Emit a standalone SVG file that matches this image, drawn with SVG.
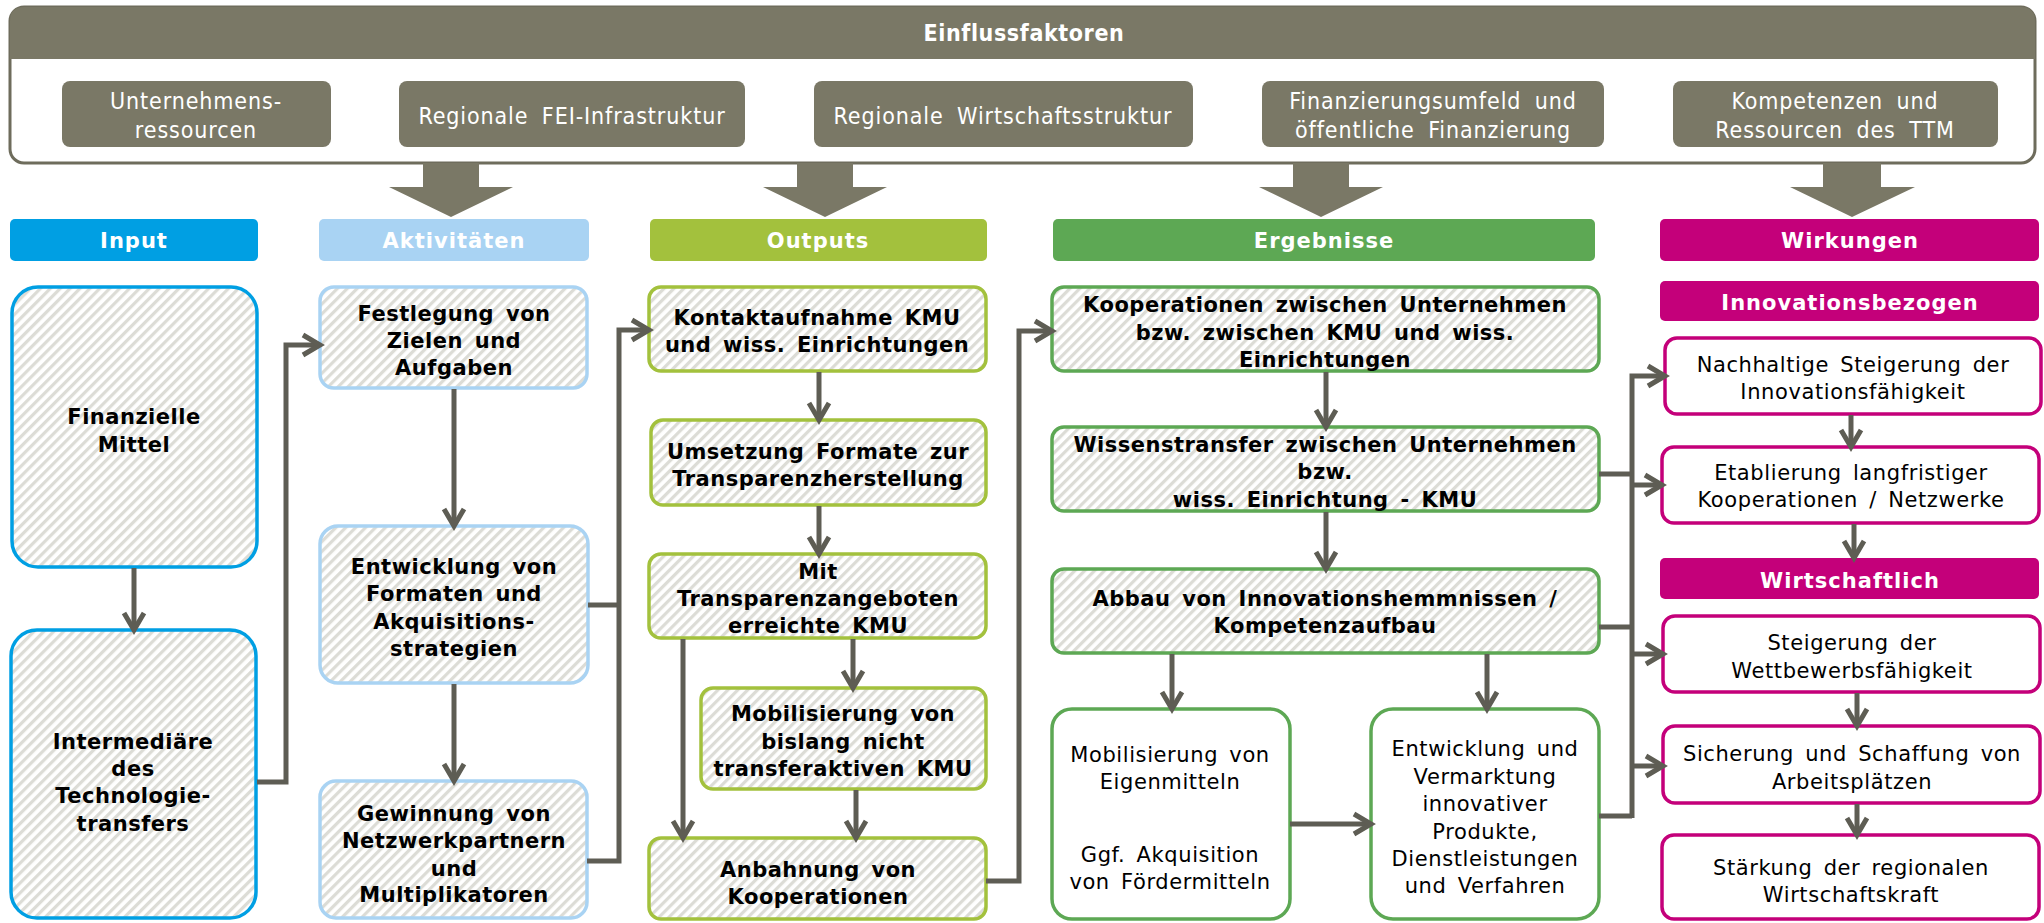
<svg xmlns="http://www.w3.org/2000/svg" width="2044" height="923" viewBox="0 0 2044 923">
<defs>
<pattern id="hatch" width="7" height="7" patternUnits="userSpaceOnUse" patternTransform="rotate(45)">
<rect width="7" height="7" fill="#ffffff"/>
<rect x="0" y="0" width="3.2" height="7" fill="#dcdcd6"/>
</pattern>
<marker id="ah" viewBox="-4 -4 28 30" refX="19" refY="11" markerWidth="28" markerHeight="30" markerUnits="userSpaceOnUse" orient="auto">
<path d="M2,1 L19,11 L2,21" fill="none" stroke="#5e5d54" stroke-width="5" stroke-linejoin="miter"/>
</marker>
<style>
.fac{fill:#7a7866;}
.ftx{font-family:"DejaVu Sans Condensed","DejaVu Sans",sans-serif;font-size:23px;fill:#ffffff;text-anchor:middle;word-spacing:6px;letter-spacing:0.9px;}
.hdr{font-family:"DejaVu Sans",sans-serif;font-weight:bold;font-size:21px;fill:#ffffff;text-anchor:middle;letter-spacing:1px;}
.bt{font-family:"DejaVu Sans",sans-serif;font-weight:bold;font-size:21px;fill:#000000;text-anchor:middle;letter-spacing:0.5px;word-spacing:4px;}
.rt{font-family:"DejaVu Sans",sans-serif;font-size:21px;fill:#000000;text-anchor:middle;letter-spacing:0.6px;word-spacing:4px;}
.in{fill:url(#hatch);stroke:#009fe3;stroke-width:3.5;}
.ak{fill:url(#hatch);stroke:#a9d3f3;stroke-width:3.5;}
.ou{fill:url(#hatch);stroke:#a3c13d;stroke-width:3.5;}
.er{fill:url(#hatch);stroke:#5da854;stroke-width:3.5;}
.erw{fill:#ffffff;stroke:#5da854;stroke-width:3.5;}
.wi{fill:#ffffff;stroke:#c4007a;stroke-width:3.5;}
.con{fill:none;stroke:#5e5d54;stroke-width:5;}
.arr{fill:none;stroke:#5e5d54;stroke-width:5;marker-end:url(#ah);}
</style>
</defs>

<g id="einflussfaktoren">
<rect x="10" y="7" width="2025" height="156" rx="14" fill="#ffffff" stroke="#6e6c5c" stroke-width="3"/>
<path d="M10,59 V21 Q10,7 24,7 H2021 Q2035,7 2035,21 V59 Z" class="fac"/>
<text x="1024" y="41" class="hdr" style="font-family:'DejaVu Sans Condensed','DejaVu Sans',sans-serif;font-size:23px;letter-spacing:0.6px">Einflussfaktoren</text>
</g>
<g id="f1"><rect x="62" y="81" width="269" height="66" rx="8" class="fac"/><text x="196" y="109" class="ftx">Unternehmens-</text><text x="196" y="138" class="ftx">ressourcen</text></g>
<g id="f2"><rect x="399" y="81" width="346" height="66" rx="8" class="fac"/><text x="572" y="124" class="ftx">Regionale  FEI-Infrastruktur</text></g>
<g id="f3"><rect x="814" y="81" width="379" height="66" rx="8" class="fac"/><text x="1003" y="124" class="ftx">Regionale  Wirtschaftsstruktur</text></g>
<g id="f4"><rect x="1262" y="81" width="342" height="66" rx="8" class="fac"/><text x="1433" y="109" class="ftx">Finanzierungsumfeld  und</text><text x="1433" y="138" class="ftx">öffentliche Finanzierung</text></g>
<g id="f5"><rect x="1673" y="81" width="325" height="66" rx="8" class="fac"/><text x="1835" y="109" class="ftx">Kompetenzen  und</text><text x="1835" y="138" class="ftx">Ressourcen des TTM</text></g>

<g id="bigarrows" class="fac">
<polygon points="423,163 479,163 479,187 513,187 451,217 389,187 423,187"/>
<polygon points="797,163 853,163 853,187 887,187 825,217 763,187 797,187"/>
<polygon points="1293,163 1349,163 1349,187 1383,187 1321,217 1259,187 1293,187"/>
<polygon points="1823,163 1881,163 1881,187 1915,187 1852,217 1790,187 1823,187"/>
</g>

<g id="headers">
<g id="h-input"><rect x="10" y="219" width="248" height="42" rx="5" fill="#009fe3"/><text x="134" y="248" class="hdr">Input</text></g>
<g id="h-akt"><rect x="319" y="219" width="270" height="42" rx="5" fill="#a9d3f3"/><text x="454" y="248" class="hdr">Aktivitäten</text></g>
<g id="h-out"><rect x="650" y="219" width="337" height="42" rx="5" fill="#a3c13d"/><text x="818" y="248" class="hdr">Outputs</text></g>
<g id="h-erg"><rect x="1053" y="219" width="542" height="42" rx="5" fill="#5da854"/><text x="1324" y="248" class="hdr">Ergebnisse</text></g>
<g id="h-wir"><rect x="1660" y="219" width="379" height="42" rx="5" fill="#c4007a"/><text x="1850" y="248" class="hdr">Wirkungen</text></g>
</g>

<g id="n-finanz"><rect x="12" y="287" width="245" height="280" rx="26" class="in"/><text x="134" y="424" class="bt">Finanzielle</text><text x="134" y="452" class="bt">Mittel</text></g>
<g id="n-interm"><rect x="11" y="630" width="245" height="288" rx="26" class="in"/><text x="133" y="749" class="bt">Intermediäre</text><text x="133" y="776" class="bt">des</text><text x="133" y="803" class="bt">Technologie-</text><text x="133" y="831" class="bt">transfers</text></g>

<g id="n-festl"><rect x="320" y="287" width="267" height="101" rx="14" class="ak"/><text x="454" y="321" class="bt">Festlegung  von</text><text x="454" y="348" class="bt">Zielen  und</text><text x="454" y="375" class="bt">Aufgaben</text></g>
<g id="n-entw"><rect x="320" y="526" width="268" height="157" rx="18" class="ak"/><text x="454" y="574" class="bt">Entwicklung  von</text><text x="454" y="601" class="bt">Formaten und</text><text x="454" y="629" class="bt">Akquisitions-</text><text x="454" y="656" class="bt">strategien</text></g>
<g id="n-gew"><rect x="320" y="781" width="267" height="137" rx="16" class="ak"/><text x="454" y="821" class="bt">Gewinnung  von</text><text x="454" y="848" class="bt">Netzwerkpartnern</text><text x="454" y="876" class="bt">und</text><text x="454" y="902" class="bt">Multiplikatoren</text></g>

<g id="n-kontakt"><rect x="649" y="287" width="337" height="84" rx="12" class="ou"/><text x="817" y="325" class="bt">Kontaktaufnahme  KMU</text><text x="817" y="352" class="bt">und  wiss. Einrichtungen</text></g>
<g id="n-umsetz"><rect x="651" y="420" width="335" height="85" rx="12" class="ou"/><text x="818" y="459" class="bt">Umsetzung Formate zur</text><text x="818" y="486" class="bt">Transparenzherstellung</text></g>
<g id="n-mit"><rect x="649" y="554" width="337" height="84" rx="12" class="ou"/><text x="818" y="579" class="bt">Mit</text><text x="818" y="606" class="bt">Transparenzangeboten</text><text x="818" y="633" class="bt">erreichte  KMU</text></g>
<g id="n-mobkmu"><rect x="701" y="688" width="285" height="101" rx="12" class="ou"/><text x="843" y="721" class="bt">Mobilisierung  von</text><text x="843" y="749" class="bt">bislang  nicht</text><text x="843" y="776" class="bt">transferaktiven  KMU</text></g>
<g id="n-anb"><rect x="649" y="838" width="337" height="81" rx="12" class="ou"/><text x="818" y="877" class="bt">Anbahnung  von</text><text x="818" y="904" class="bt">Kooperationen</text></g>

<g id="n-koop"><rect x="1052" y="287" width="547" height="84" rx="12" class="er"/><text x="1325" y="312" class="bt">Kooperationen  zwischen  Unternehmen</text><text x="1325" y="340" class="bt">bzw.  zwischen KMU  und  wiss.</text><text x="1325" y="367" class="bt">Einrichtungen</text></g>
<g id="n-wiss"><rect x="1052" y="427" width="547" height="84" rx="12" class="er"/><text x="1325" y="452" class="bt">Wissenstransfer  zwischen  Unternehmen</text><text x="1325" y="479" class="bt">bzw.</text><text x="1325" y="507" class="bt">wiss.  Einrichtung  -  KMU</text></g>
<g id="n-abbau"><rect x="1052" y="569" width="547" height="84" rx="12" class="er"/><text x="1325" y="606" class="bt">Abbau  von Innovationshemmnissen  /</text><text x="1325" y="633" class="bt">Kompetenzaufbau</text></g>
<g id="n-eigen"><rect x="1052" y="709" width="238" height="210" rx="20" class="erw"/><text x="1170" y="762" class="rt">Mobilisierung  von</text><text x="1170" y="789" class="rt">Eigenmitteln</text><text x="1170" y="862" class="rt">Ggf.  Akquisition</text><text x="1170" y="889" class="rt">von Fördermitteln</text></g>
<g id="n-vermarkt"><rect x="1371" y="709" width="228" height="210" rx="22" class="erw"/><text x="1485" y="756" class="rt">Entwicklung  und</text><text x="1485" y="784" class="rt">Vermarktung</text><text x="1485" y="811" class="rt">innovativer</text><text x="1485" y="839" class="rt">Produkte,</text><text x="1485" y="866" class="rt">Dienstleistungen</text><text x="1485" y="893" class="rt">und  Verfahren</text></g>

<g id="h-innov"><rect x="1660" y="281" width="379" height="40" rx="5" fill="#c4007a"/><text x="1850" y="310" class="hdr">Innovationsbezogen</text></g>
<g id="n-nachh"><rect x="1665" y="338" width="376" height="76" rx="12" class="wi"/><text x="1853" y="372" class="rt">Nachhaltige  Steigerung  der</text><text x="1853" y="399" class="rt">Innovationsfähigkeit</text></g>
<g id="n-etab"><rect x="1662" y="447" width="377" height="76" rx="12" class="wi"/><text x="1851" y="480" class="rt">Etablierung  langfristiger</text><text x="1851" y="507" class="rt">Kooperationen  / Netzwerke</text></g>
<g id="h-wirt"><rect x="1660" y="558" width="379" height="41" rx="5" fill="#c4007a"/><text x="1850" y="588" class="hdr">Wirtschaftlich</text></g>
<g id="n-wettb"><rect x="1663" y="616" width="377" height="76" rx="12" class="wi"/><text x="1852" y="650" class="rt">Steigerung  der</text><text x="1852" y="678" class="rt">Wettbewerbsfähigkeit</text></g>
<g id="n-sich"><rect x="1663" y="726" width="377" height="77" rx="12" class="wi"/><text x="1852" y="761" class="rt">Sicherung  und  Schaffung von</text><text x="1852" y="789" class="rt">Arbeitsplätzen</text></g>
<g id="n-staerk"><rect x="1662" y="835" width="377" height="84" rx="12" class="wi"/><text x="1851" y="875" class="rt">Stärkung  der  regionalen</text><text x="1851" y="902" class="rt">Wirtschaftskraft</text></g>

<g id="connectors">
<path class="arr" d="M134,568 V630"/>
<path class="arr" d="M257,782 H286 V345 H320"/>
<path class="arr" d="M454,389 V526"/>
<path class="arr" d="M454,684 V781"/>
<path class="con" d="M588,605 H619"/>
<path class="arr" d="M587,861 H619 V330 H649"/>
<path class="arr" d="M819,372 V420"/>
<path class="arr" d="M819,506 V554"/>
<path class="arr" d="M853,639 V688"/>
<path class="arr" d="M856,790 V838"/>
<path class="arr" d="M683,639 V838"/>
<path class="arr" d="M986,881 H1019 V331 H1052"/>
<path class="arr" d="M1326,372 V427"/>
<path class="arr" d="M1326,512 V569"/>
<path class="arr" d="M1172,654 V709"/>
<path class="arr" d="M1487,654 V709"/>
<path class="arr" d="M1290,824 H1371"/>
<path class="con" d="M1599,474 H1632"/>
<path class="con" d="M1599,627 H1632"/>
<path class="con" d="M1599,816 H1632"/>
<path class="arr" d="M1632,818 V376 H1665"/>
<path class="arr" d="M1632,485 H1662"/>
<path class="arr" d="M1632,654 H1663"/>
<path class="arr" d="M1632,766 H1663"/>
<path class="arr" d="M1851,415 V447"/>
<path class="arr" d="M1854,524 V558"/>
<path class="arr" d="M1857,693 V726"/>
<path class="arr" d="M1857,804 V835"/>
</g>
</svg>
